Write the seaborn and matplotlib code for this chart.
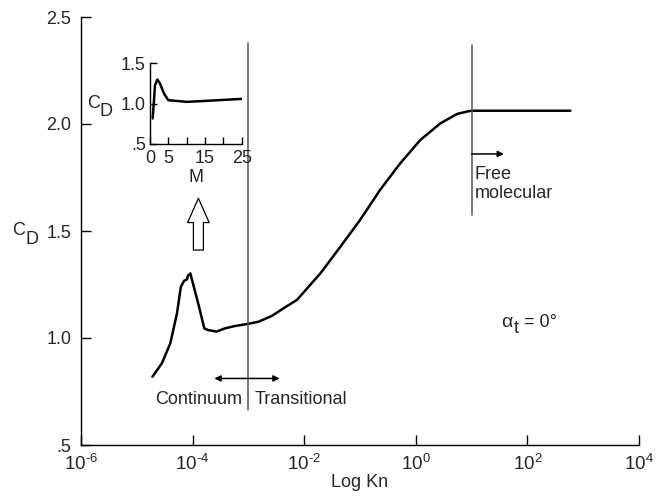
import numpy as np
import pandas as pd
import matplotlib
matplotlib.use("Agg")
import matplotlib.pyplot as plt
import seaborn as sns

# ---------------- data ----------------
log_kn = [-4.72, -4.55, -4.40, -4.28, -4.21, -4.15, -4.10, -4.086, -4.04, -4.01,
          -3.90, -3.79, -3.72, -3.57, -3.42, -3.24, -3.03, -2.82, -2.58, -2.37,
          -2.13, -1.71, -1.35, -1.00, -0.64, -0.28, 0.08, 0.44, 0.74, 0.95, 1.0, 2.77]
cd_main = [0.819, 0.882, 0.975, 1.115, 1.240, 1.268, 1.274, 1.290, 1.302, 1.271,
           1.162, 1.045, 1.037, 1.030, 1.045, 1.056, 1.065, 1.076, 1.103, 1.139,
           1.178, 1.302, 1.427, 1.551, 1.692, 1.816, 1.925, 2.003, 2.047, 2.060, 2.062, 2.062]

mach = [0.73, 1.09, 1.36, 2.0, 2.73, 3.8, 5.0, 10.0, 15.5, 25.0]
cd_inset = [0.817, 1.043, 1.228, 1.299, 1.249, 1.126, 1.043, 1.022, 1.035, 1.059]

x_ticks_exp = [-6, -4, -2, 0, 2, 4]
y_ticks = [0.5, 1.0, 1.5, 2.0, 2.5]
y_tick_labels = [".5", "1.0", "1.5", "2.0", "2.5"]
inset_x_ticks = [0, 5, 10, 15, 20, 25]
inset_x_labels = ["0", "5", "", "15", "", "25"]
inset_y_ticks = [0.5, 1.0, 1.5]
inset_y_labels = [".5", "1.0", "1.5"]

regime_lines_logkn = [-3.0, 1.0]

# ---------------- style ----------------
sns.set_theme(style="ticks")
plt.rcParams["font.family"] = ["Liberation Sans", "DejaVu Sans"]
plt.rcParams["mathtext.fontset"] = "custom"
plt.rcParams["mathtext.rm"] = "Liberation Sans"
plt.rcParams["mathtext.it"] = "Liberation Sans:italic"
plt.rcParams["mathtext.default"] = "regular"

FS = 13
TFS = 13

fig = plt.figure(figsize=(6.57, 4.99), dpi=100)
ax = fig.add_axes([81 / 657, (499 - 445) / 499, 558 / 657, 428 / 499])

df = pd.DataFrame({"Kn": 10.0 ** np.array(log_kn), "CD": cd_main})
sns.lineplot(data=df, x="Kn", y="CD", ax=ax, color="black", lw=1.8, sort=False)

ax.set_xscale("log")
ax.set_xlim(1e-6, 1e4)
ax.set_ylim(0.5, 2.5)
ax.set_xticks([10.0 ** e for e in x_ticks_exp])


def sup_label(e):
    if e < 0:
        return rf"$10^{{\text{{-}}{abs(e)}}}$"
    return rf"$10^{{{e}}}$"


ax.set_xticklabels([sup_label(e) for e in x_ticks_exp], fontsize=TFS + 0.5)
ax.minorticks_off()
ax.set_yticks(y_ticks)
ax.set_yticklabels(y_tick_labels, fontsize=TFS)
ax.tick_params(direction="in", length=7, width=1.0, color="black")
ax.tick_params(axis="x", pad=6.5)
ax.tick_params(axis="y", pad=7)
for s in ["top", "right"]:
    ax.spines[s].set_visible(False)
for s in ["left", "bottom"]:
    ax.spines[s].set_color("black")
    ax.spines[s].set_linewidth(1.0)

ax.set_xlabel("Log Kn", fontsize=FS, labelpad=0)
ax.set_ylabel("")


def cd_label(axis, cx, cy, dx_px, dy_px, fs):
    axis.annotate("C", xy=(cx, cy), xycoords="axes fraction", ha="center", va="center",
                  fontsize=fs, annotation_clip=False)
    axis.annotate("D", xy=(cx, cy), xycoords="axes fraction", xytext=(dx_px, dy_px),
                  textcoords="offset pixels", ha="center", va="center", fontsize=fs,
                  annotation_clip=False)


cd_label(ax, -0.111, 0.502, 12.5, -9, FS)

# regime boundaries
ax.plot([10 ** regime_lines_logkn[0]] * 2, [0.664, 2.378], color="#555555", lw=1.1)
ax.plot([10 ** regime_lines_logkn[1]] * 2, [1.575, 2.369], color="#555555", lw=1.1)

# double arrow continuum / transitional
ax.annotate("", xy=(10 ** -3.61, 0.811), xytext=(10 ** -2.44, 0.811),
            arrowprops=dict(arrowstyle="<|-|>", color="black", lw=1.1,
                            mutation_scale=9, shrinkA=0, shrinkB=0))
ax.text(10 ** -3.12, 0.692, "Continuum", ha="right", va="baseline", fontsize=FS)
ax.text(10 ** -2.88, 0.692, "Transitional", ha="left", va="baseline", fontsize=FS)

# free molecular arrow
ax.annotate("", xy=(10 ** 1.58, 1.86), xytext=(10 ** 1.0, 1.86),
            arrowprops=dict(arrowstyle="-|>", color="black", lw=1.1,
                            mutation_scale=9, shrinkA=0, shrinkB=0))
ax.text(10 ** 1.06, 1.743, "Free", ha="left", va="baseline", fontsize=FS)
ax.text(10 ** 1.06, 1.653, "molecular", ha="left", va="baseline", fontsize=FS)

# alpha_t = 0 deg
a_xy = (10 ** 1.53, 1.05)
ax.annotate("α", xy=a_xy, ha="left", va="baseline", fontsize=FS + 1)
ax.annotate("t", xy=a_xy, xytext=(13, -6), textcoords="offset pixels",
            ha="left", va="baseline", fontsize=FS)
ax.annotate("= 0°", xy=a_xy, xytext=(23, 0), textcoords="offset pixels",
            ha="left", va="baseline", fontsize=FS)

# hollow arrow pointing to the inset
ax.annotate("", xy=(10 ** -3.896, 1.653), xytext=(10 ** -3.896, 1.411),
            arrowprops=dict(arrowstyle="simple,head_length=1.75,head_width=1.55,tail_width=0.72",
                            fc="white", ec="black", lw=0.9, mutation_scale=10,
                            shrinkA=0, shrinkB=0))

# ---------------- inset ----------------
ax2 = fig.add_axes([150 / 657, (499 - 144) / 499, 91.7 / 657, 80.7 / 499])
ax2.patch.set_alpha(0)
di = pd.DataFrame({"M": mach, "CD": cd_inset})
sns.lineplot(data=di, x="M", y="CD", ax=ax2, color="black", lw=1.8, sort=False)
ax2.set_xlim(0, 25)
ax2.set_ylim(0.5, 1.5)
ax2.set_xticks(inset_x_ticks)
ax2.set_xticklabels(inset_x_labels, fontsize=TFS)
ax2.set_yticks(inset_y_ticks)
ax2.set_yticklabels(inset_y_labels, fontsize=TFS)
ax2.tick_params(direction="in", length=5, width=1.0, color="black")
ax2.tick_params(axis="x", pad=4.5)
ax2.tick_params(axis="y", pad=3)
for s in ["top", "right"]:
    ax2.spines[s].set_visible(False)
for s in ["left", "bottom"]:
    ax2.spines[s].set_color("black")
    ax2.spines[s].set_linewidth(1.0)
ax2.set_xlabel("M", fontsize=FS, labelpad=1)
ax2.set_ylabel("")
cd_label(ax2, -0.611, 0.502, 12.5, -8, FS)

fig.savefig("out.png", dpi=100)
